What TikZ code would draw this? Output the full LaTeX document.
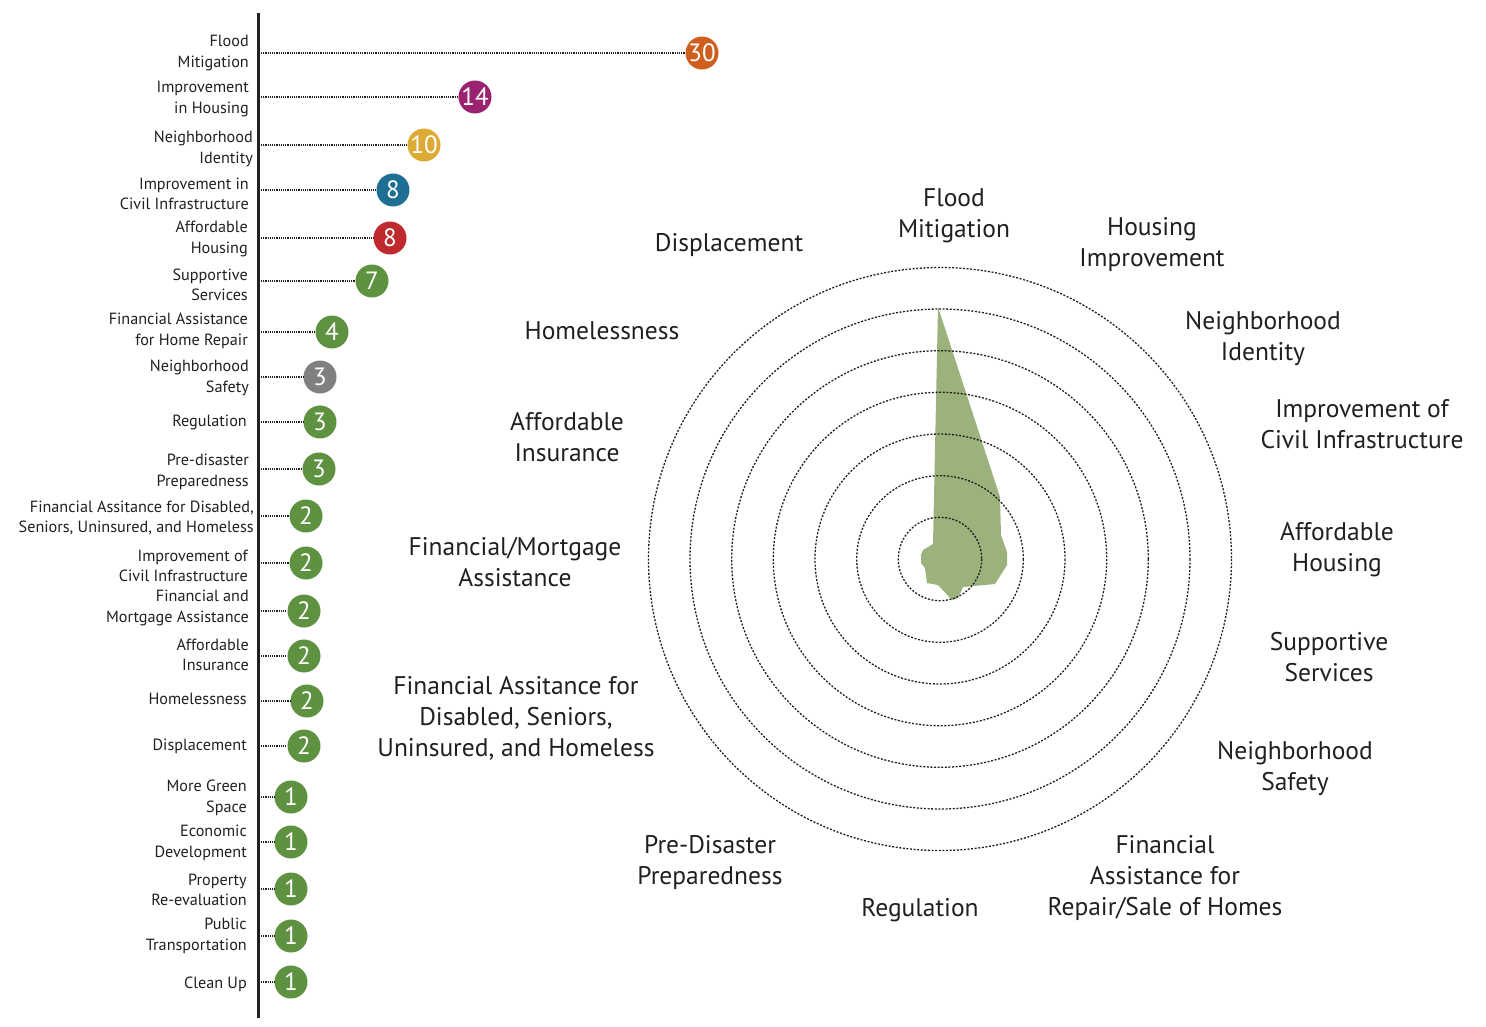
\documentclass[tikz,border=0pt]{standalone}
\usepackage{fontspec}
\setmainfont{PT Sans}
\usetikzlibrary{positioning}

\definecolor{cOrange}{HTML}{CF5F1E}
\definecolor{cPurple}{HTML}{9A2370}
\definecolor{cYellow}{HTML}{DDAA35}
\definecolor{cBlue}{HTML}{1F6F95}
\definecolor{cRed}{HTML}{BE2A2E}
\definecolor{cGreen}{HTML}{5E9140}
\definecolor{cGray}{HTML}{808080}
\definecolor{cArea}{HTML}{9BB27C}
\definecolor{cText}{HTML}{231F20}

\begin{document}
\begin{tikzpicture}[x=1pt,y=-1pt]

\tikzstyle{lab} = [anchor=east, align=right, inner sep=0pt, yshift=-2pt, text=cText, font=\fontsize{16.2}{20.5}\selectfont]
\tikzstyle{big} = [align=center, inner sep=0pt, yshift=-2pt, text=cText, font=\fontsize{25.5}{31}\selectfont]
\tikzstyle{num} = [circle, minimum size=33pt, inner sep=0pt, text=white, font=\fontsize{25}{25}\selectfont]
\tikzstyle{lead} = [densely dotted, line width=1.2pt, cText]
\tikzstyle{ring} = [dash pattern=on 2pt off 1.6pt, line width=1.3pt, cText]

\useasboundingbox (0,0) rectangle (1486,1026);

% axis of the list
\draw[line width=3pt, cText] (258,13) -- (258,1018);

% list of topics
\node (l1) [lab] at (249,51) {Flood\\Mitigation};
\coordinate (s1) at (261,53);
\node (c1) [num, fill=cOrange] at (702,53) {30};
\draw[lead] (s1) -- (c1);

\node (l2) [lab] at (249,97) {Improvement\\in Housing};
\coordinate (s2) at (261,97);
\node (c2) [num, fill=cPurple] at (475,97) {14};
\draw[lead] (s2) -- (c2);

\node (l3) [lab] at (253,147) {Neighborhood\\Identity};
\coordinate (s3) at (261,145);
\node (c3) [num, fill=cYellow] at (424,145) {10};
\draw[lead] (s3) -- (c3);

\node (l4) [lab] at (249,192) {Improvement in\\Civil Infrastructure};
\coordinate (s4) at (261,190);
\node (c4) [num, fill=cBlue] at (393,190) {8};
\draw[lead] (s4) -- (c4);

\node (l5) [lab] at (248,237) {Affordable\\Housing};
\coordinate (s5) at (261,238);
\node (c5) [num, fill=cRed] at (390,238) {8};
\draw[lead] (s5) -- (c5);

\node (l6) [lab] at (248,283) {Supportive\\Services};
\coordinate (s6) at (261,281);
\node (c6) [num, fill=cGreen] at (372,281) {7};
\draw[lead] (s6) -- (c6);

\node (l7) [lab] at (248,329) {Financial Assistance\\for Home Repair};
\coordinate (s7) at (261,332);
\node (c7) [num, fill=cGreen] at (332,332) {4};
\draw[lead] (s7) -- (c7);

\node (l8) [lab] at (249,376) {Neighborhood\\Safety};
\coordinate (s8) at (261,377);
\node (c8) [num, fill=cGray] at (320,377) {3};
\draw[lead] (s8) -- (c8);

\node (l9) [lab] at (247,420) {Regulation};
\coordinate (s9) at (261,422);
\node (c9) [num, fill=cGreen] at (320,422) {3};
\draw[lead] (s9) -- (c9);

\node (l10) [lab] at (249,470) {Pre-disaster\\Preparedness};
\coordinate (s10) at (261,469);
\node (c10) [num, fill=cGreen] at (319,469) {3};
\draw[lead] (s10) -- (c10);

\node (l11) [lab] at (254,516) {Financial Assitance for Disabled,\\Seniors, Uninsured, and Homeless};
\coordinate (s11) at (261,516);
\node (c11) [num, fill=cGreen] at (306,516) {2};
\draw[lead] (s11) -- (c11);

\node (l12) [lab] at (248,564) {Improvement of\\Civil Infrastructure};
\coordinate (s12) at (261,563);
\node (c12) [num, fill=cGreen] at (306,563) {2};
\draw[lead] (s12) -- (c12);

\node (l13) [lab] at (249,606) {Financial and\\Mortgage Assistance};
\coordinate (s13) at (261,611);
\node (c13) [num, fill=cGreen] at (304,611) {2};
\draw[lead] (s13) -- (c13);

\node (l14) [lab] at (249,653) {Affordable\\Insurance};
\coordinate (s14) at (261,656);
\node (c14) [num, fill=cGreen] at (304,656) {2};
\draw[lead] (s14) -- (c14);

\node (l15) [lab] at (247,697) {Homelessness};
\coordinate (s15) at (261,701);
\node (c15) [num, fill=cGreen] at (307,701) {2};
\draw[lead] (s15) -- (c15);

\node (l16) [lab] at (247,744) {Displacement};
\coordinate (s16) at (261,746);
\node (c16) [num, fill=cGreen] at (304,746) {2};
\draw[lead] (s16) -- (c16);

\node (l17) [lab] at (247,796) {More Green\\Space};
\coordinate (s17) at (261,797);
\node (c17) [num, fill=cGreen] at (291,797) {1};
\draw[lead] (s17) -- (c17);

\node (l18) [lab] at (247,841) {Economic\\Development};
\coordinate (s18) at (261,842);
\node (c18) [num, fill=cGreen] at (291,842) {1};
\draw[lead] (s18) -- (c18);

\node (l19) [lab] at (247,888) {Property\\Re-evaluation};
\coordinate (s19) at (261,889);
\node (c19) [num, fill=cGreen] at (291,889) {1};
\draw[lead] (s19) -- (c19);

\node (l20) [lab] at (247,934) {Public\\Transportation};
\coordinate (s20) at (261,936);
\node (c20) [num, fill=cGreen] at (291,936) {1};
\draw[lead] (s20) -- (c20);

\node (l21) [lab] at (247,982) {Clean Up};
\coordinate (s21) at (261,982);
\node (c21) [num, fill=cGreen] at (291,982) {1};
\draw[lead] (s21) -- (c21);

% radar
\coordinate (o) at (940,559);
\fill[cArea] (938,307) -- (1000,497) -- (1001,535) -- (1007,552) -- (1007,565)
  -- (995,584) -- (963,587) -- (958,598) -- (952,600) -- (938,585) -- (927,583)
  -- (925,568) -- (921,563) -- (921,555) -- (923,550) -- (933,544) -- cycle;
\draw[ring] (o) circle (41.7);
\draw[ring] (o) circle (83.3);
\draw[ring] (o) circle (125);
\draw[ring] (o) circle (166.7);
\draw[ring] (o) circle (208.3);
\draw[ring] (o) circle (250);
\draw[ring] (o) circle (291.5);

\node (r1) [big] at (954,214) {Flood\\Mitigation};
\node (r2) [big] at (1152,243) {Housing\\Improvement};
\node (r3) [big] at (1263,337) {Neighborhood\\Identity};
\node (r4) [big] at (1362,422) {Improvement of\\Civil Infrastructure};
\node (r5) [big] at (1337,548) {Affordable\\Housing};
\node (r6) [big] at (1329,655) {Supportive\\Services};
\node (r7) [big] at (1295,767) {Neighborhood\\Safety};
\node (r8) [big] at (1165,876) {Financial\\Assistance for\\Repair/Sale of Homes};
\node (r9) [big] at (920,908) {Regulation};
\node (r10) [big] at (710,861) {Pre-Disaster\\Preparedness};
\node (r11) [big] at (516,716) {Financial Assitance for\\Disabled, Seniors,\\Uninsured, and Homeless};
\node (r12) [big] at (515,560) {Financial/Mortgage\\Assistance};
\node (r13) [big] at (567,435) {Affordable\\Insurance};
\node (r14) [big] at (602,329) {Homelessness};
\node (r15) [big] at (729,243) {Displacement};
\end{tikzpicture}
\end{document}
